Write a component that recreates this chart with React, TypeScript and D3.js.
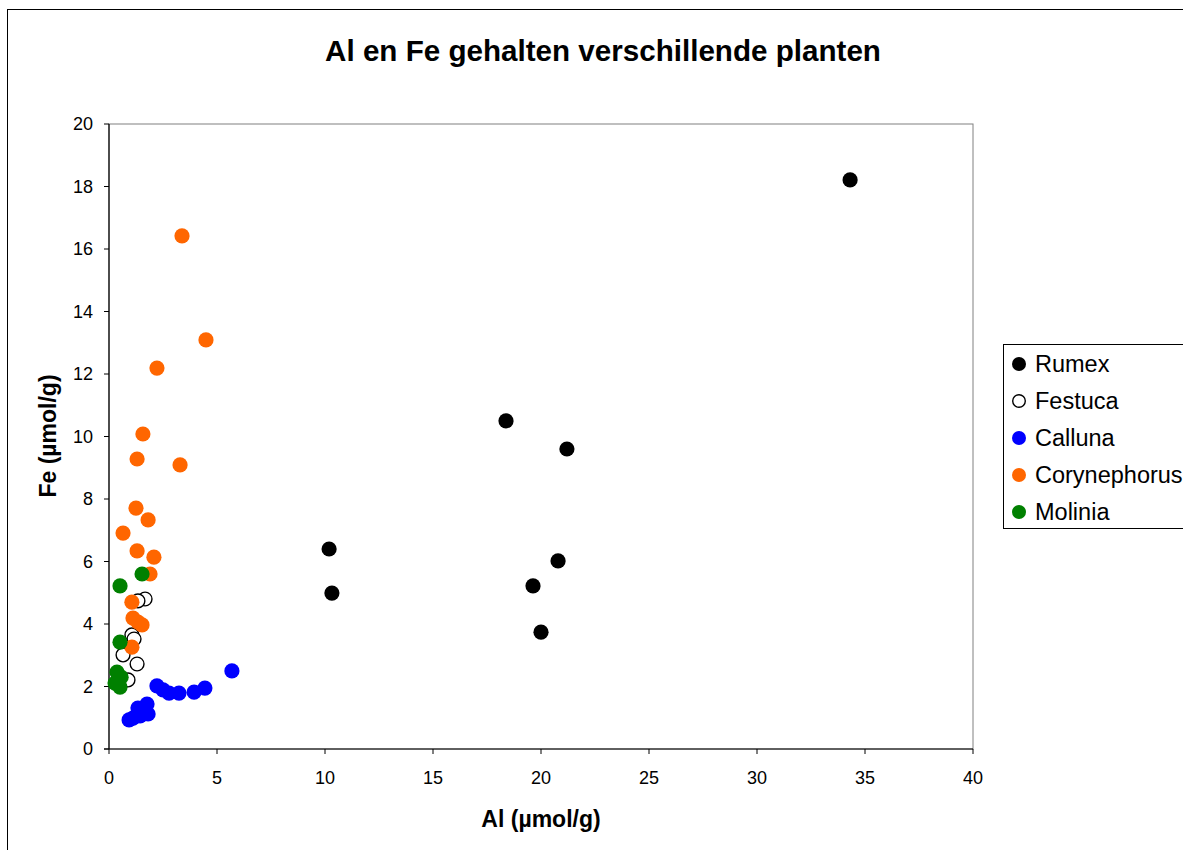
import React from "react";
import * as d3 from "d3";

type Pt = [number, number];

const rumex: Pt[] = [
  [34.31, 18.21], [18.38, 10.5], [21.2, 9.6], [19.63, 5.22], [20.79, 6.02],
  [20.0, 3.74], [10.19, 6.4], [10.32, 4.99],
];
const festuca: Pt[] = [
  [1.67, 4.8], [1.34, 4.74], [1.06, 3.65], [1.16, 3.52], [0.65, 3.01],
  [1.3, 2.72], [0.88, 2.21],
];
const calluna: Pt[] = [
  [5.69, 2.5], [2.22, 2.02], [2.5, 1.89], [2.78, 1.79], [3.24, 1.79],
  [3.94, 1.82], [4.44, 1.95], [1.76, 1.44], [1.34, 1.31], [1.81, 1.12],
  [1.44, 1.06], [1.11, 0.99], [0.93, 0.93],
];
const corynephorus: Pt[] = [
  [3.38, 16.42], [4.49, 13.09], [2.22, 12.19], [1.57, 10.08], [1.3, 9.28],
  [3.29, 9.09], [0.65, 6.91], [1.25, 7.71], [1.81, 7.33], [1.3, 6.34],
  [2.08, 6.14], [1.9, 5.6], [1.06, 4.7], [1.11, 4.19], [1.34, 4.06],
  [1.53, 3.97], [1.06, 3.26],
];
const molinia: Pt[] = [
  [1.53, 5.6], [0.51, 5.22], [0.51, 3.42], [0.37, 2.46], [0.56, 2.3],
  [0.28, 2.11], [0.51, 1.98],
];

const seriesNames = ["Rumex", "Festuca", "Calluna", "Corynephorus", "Molinia"];
const seriesData = [rumex, festuca, calluna, corynephorus, molinia];
const seriesFill = ["#000000", "#ffffff", "#0000ff", "#ff6600", "#008000"];
const seriesStroke = ["#000000", "#000000", "#0000ff", "#ff6600", "#008000"];

const xTicks = [0, 5, 10, 15, 20, 25, 30, 35, 40];
const yTicks = [0, 2, 4, 6, 8, 10, 12, 14, 16, 18, 20];

const title = "Al en Fe gehalten verschillende planten";
const xTitle = "Al (µmol/g)";
const yTitle = "Fe (µmol/g)";

export default function App() {
  const L = 109, R = 973, T = 124, B = 749;
  const x = d3.scaleLinear().domain([0, 40]).range([L, R]);
  const y = d3.scaleLinear().domain([0, 20]).range([B, T]);
  const font = "'Liberation Sans', Arial, sans-serif";
  const r = 7.6;

  return (
    <svg
      width={1183}
      height={850}
      style={{ position: "absolute", left: 0, top: 0, background: "#fff" }}
      fontFamily={font}
    >
      <rect x={0} y={0} width={1183} height={850} fill="#fff" />
      <rect x={7.5} y={9.5} width={1300} height={1000} fill="#fff" stroke="#000" strokeWidth={1} />
      <text x={603} y={61} textAnchor="middle" fontSize={29.6} fontWeight="bold">{title}</text>

      {/* plot frame */}
      <rect x={L} y={T} width={R - L} height={B - T} fill="#fff" stroke="#808080" strokeWidth={1} />
      <line x1={L} x2={L} y1={T} y2={B} stroke="#000" strokeWidth={1.2} />
      <line x1={L - 5} x2={R} y1={B} y2={B} stroke="#000" strokeWidth={1.2} />

      {yTicks.map((t) => (
        <g key={"y" + t}>
          <line x1={L - 5} x2={L} y1={y(t)} y2={y(t)} stroke="#000" />
          <text x={93} y={y(t)} dy="0.35em" textAnchor="end" fontSize={18}>{t}</text>
        </g>
      ))}
      {xTicks.map((t) => (
        <g key={"x" + t}>
          <line x1={x(t)} x2={x(t)} y1={B} y2={B + 5} stroke="#000" />
          <text x={x(t)} y={784} textAnchor="middle" fontSize={18}>{t}</text>
        </g>
      ))}

      <text x={541} y={827} textAnchor="middle" fontSize={23} fontWeight="bold">{xTitle}</text>
      <text
        transform={`translate(56,436) rotate(-90)`}
        textAnchor="middle"
        fontSize={23}
        fontWeight="bold"
      >{yTitle}</text>

      {seriesData.map((data, i) => (
        <g key={seriesNames[i]}>
          {data.map((d, j) => (
            <circle
              key={j}
              cx={x(d[0])}
              cy={y(d[1])}
              r={i === 1 ? r - 0.7 : r}
              fill={seriesFill[i]}
              stroke={seriesStroke[i]}
              strokeWidth={i === 1 ? 1.4 : 0}
            />
          ))}
        </g>
      ))}

      {/* legend */}
      <rect x={1003.5} y={344.5} width={200} height={184} fill="#fff" stroke="#000" strokeWidth={1} />
      {seriesNames.map((n, i) => {
        const cy = 364 + i * 37;
        return (
          <g key={"l" + n}>
            <circle
              cx={1019}
              cy={cy}
              r={i === 1 ? 6.3 : 7}
              fill={seriesFill[i]}
              stroke={seriesStroke[i]}
              strokeWidth={i === 1 ? 1.4 : 0}
            />
            <text x={1035} y={cy} dy="0.35em" fontSize={23.5}>{n}</text>
          </g>
        );
      })}
    </svg>
  );
}
